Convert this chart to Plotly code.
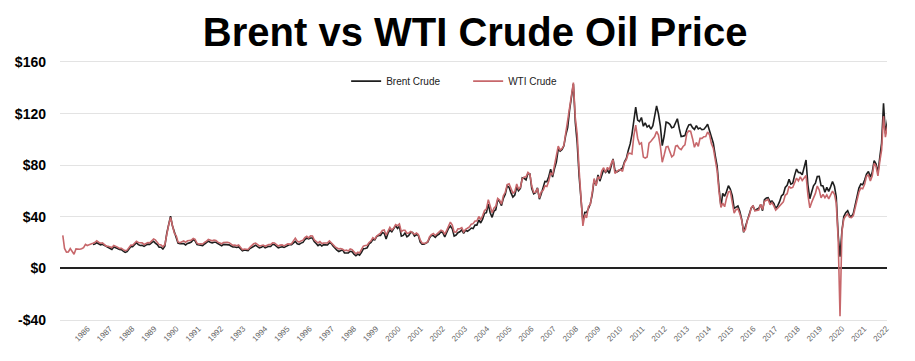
import pandas as pd
import plotly.graph_objects as go

# Monthly crude oil prices (USD/bbl)
wti_start = "1986-01-15"
wti_prices = [
    25.6, 15.5, 12.6, 12.8, 15.4, 13.4, 11.0, 15.1, 14.9, 14.9, 15.2, 16.1,      # 1986
    18.65, 17.75, 18.30, 18.68, 19.44, 20.07, 21.34, 20.31, 19.53, 19.86, 18.85, 17.28,  # 1987
    17.13, 16.80, 16.20, 17.86, 17.42, 16.53, 15.50, 15.52, 14.54, 13.77, 14.14, 16.38,  # 1988
    18.02, 17.94, 19.48, 21.07, 20.12, 20.05, 19.78, 18.58, 19.59, 20.10, 19.86, 21.10,  # 1989
    22.86, 22.11, 20.39, 18.43, 18.20, 16.70, 18.45, 27.31, 33.51, 39.50, 32.33, 27.28,  # 1990
    25.23, 20.48, 19.90, 20.83, 21.23, 20.19, 21.40, 21.69, 21.89, 23.23, 22.46, 19.50,  # 1991
    18.79, 19.01, 18.92, 20.23, 20.98, 22.39, 21.78, 21.34, 21.88, 21.69, 20.34, 19.41,  # 1992
    19.03, 20.09, 20.32, 20.25, 19.95, 19.09, 17.89, 18.01, 17.50, 18.15, 16.61, 14.52,  # 1993
    15.03, 14.78, 14.68, 16.42, 17.89, 19.06, 19.66, 18.38, 17.45, 17.72, 18.07, 17.16,  # 1994
    18.04, 18.57, 18.54, 19.90, 19.74, 18.45, 17.33, 18.02, 18.23, 17.43, 17.99, 19.03,  # 1995
    18.86, 19.09, 21.33, 23.50, 21.17, 20.42, 21.30, 21.90, 23.97, 24.88, 23.71, 25.23,  # 1996
    25.13, 22.18, 20.97, 19.70, 20.82, 19.26, 19.66, 19.95, 19.80, 21.33, 20.19, 18.33,  # 1997
    16.72, 16.06, 15.12, 15.35, 14.91, 13.72, 14.17, 13.47, 15.03, 14.46, 13.00, 11.35,  # 1998
    12.52, 12.01, 14.68, 17.31, 17.72, 17.92, 20.10, 21.28, 23.80, 22.69, 25.00, 26.10,  # 1999
    27.26, 29.37, 29.84, 25.72, 28.79, 31.82, 29.70, 31.26, 33.88, 33.11, 34.42, 28.44,  # 2000
    29.59, 29.61, 27.25, 27.49, 28.63, 27.60, 26.43, 27.37, 26.20, 22.17, 19.64, 19.39,  # 2001
    19.72, 20.72, 24.53, 26.18, 27.04, 25.52, 26.97, 28.39, 29.66, 28.84, 26.35, 29.46,  # 2002
    32.95, 35.83, 33.51, 28.17, 28.11, 30.66, 30.76, 31.57, 28.31, 30.34, 31.11, 32.13,  # 2003
    34.31, 34.69, 36.74, 36.75, 40.28, 38.03, 40.78, 44.90, 45.94, 53.28, 48.47, 43.15,  # 2004
    46.84, 48.15, 54.19, 52.98, 49.83, 56.35, 59.00, 64.99, 65.59, 62.26, 58.32, 59.41,  # 2005
    65.49, 61.63, 62.69, 69.44, 70.84, 70.95, 74.41, 73.04, 63.80, 58.89, 59.08, 61.96,  # 2006
    54.51, 59.28, 60.44, 63.98, 63.45, 67.49, 74.12, 72.36, 79.92, 85.80, 94.77, 91.69,  # 2007
    92.97, 95.39, 105.45, 112.58, 125.40, 134.00, 144.00, 116.67, 104.11, 76.61, 57.31, 33.00,  # 2008
    41.71, 39.09, 47.94, 49.65, 59.03, 69.64, 64.15, 71.05, 69.41, 75.72, 77.99, 74.47,  # 2009
    78.33, 76.39, 81.20, 84.29, 73.74, 75.34, 76.32, 76.60, 75.24, 81.89, 84.25, 89.15,  # 2010
    89.17, 88.58, 102.86, 111.00, 100.90, 96.26, 97.30, 86.33, 85.52, 86.32, 97.16, 98.56,  # 2011
    100.27, 102.20, 106.16, 103.32, 94.66, 82.30, 87.90, 94.13, 94.51, 89.49, 86.53, 87.86,  # 2012
    94.76, 95.31, 92.94, 92.02, 94.51, 95.77, 104.67, 106.57, 106.29, 100.54, 93.86, 97.63,  # 2013
    94.62, 100.82, 100.80, 102.07, 102.18, 105.79, 103.59, 96.54, 93.21, 84.40, 75.79, 59.29,  # 2014
    47.22, 50.58, 47.82, 54.45, 59.27, 59.82, 50.90, 42.87, 45.48, 46.22, 42.44, 37.19,  # 2015
    28.50, 30.32, 37.55, 40.75, 46.71, 48.76, 44.65, 44.72, 45.18, 49.78, 45.66, 51.97,  # 2016
    52.50, 53.47, 49.33, 51.06, 48.48, 45.18, 46.63, 48.04, 49.82, 51.58, 56.64, 57.88,  # 2017
    63.70, 62.23, 62.73, 66.25, 69.98, 67.87, 70.98, 68.06, 70.23, 72.00, 56.96, 47.00,  # 2018
    51.38, 54.95, 58.15, 63.86, 60.83, 54.66, 57.35, 54.81, 56.95, 53.96, 57.03, 59.88,  # 2019
    57.52, 50.54, 23.00, -37.00, 28.56, 38.31, 40.71, 42.34, 39.63, 39.40, 40.94, 47.02,  # 2020
    52.00, 59.04, 62.33, 61.72, 65.17, 71.38, 72.49, 67.73, 71.65, 81.48, 79.15, 71.71,  # 2021
    83.22, 91.64, 118.00, 101.78, 109.55, 118.00,                                      # 2022
]

brent_start = "1987-05-15"
brent_prices = [
    18.58, 18.86, 19.86, 18.98, 18.31, 18.76, 18.00, 16.94,                          # 1987
    16.75, 15.73, 14.73, 16.60, 16.31, 15.49, 14.69, 14.48, 13.34, 12.42, 13.00, 15.23,  # 1988
    16.98, 16.84, 18.36, 19.93, 18.42, 17.74, 17.93, 17.10, 18.04, 18.77, 18.60, 19.81,  # 1989
    21.07, 19.64, 18.44, 16.45, 16.44, 15.08, 17.17, 27.19, 34.90, 40.50, 33.07, 28.27,  # 1990
    23.57, 19.54, 19.08, 19.18, 19.19, 18.17, 19.40, 19.77, 20.45, 22.30, 21.34, 18.47,  # 1991
    18.16, 18.05, 17.63, 18.92, 19.89, 21.16, 20.24, 19.74, 20.27, 20.28, 19.32, 18.30,  # 1992
    17.46, 18.63, 18.62, 18.56, 18.23, 17.41, 16.57, 16.62, 16.17, 16.58, 15.17, 13.70,  # 1993
    14.24, 13.75, 13.75, 15.41, 16.18, 16.73, 17.99, 16.90, 15.97, 16.34, 17.34, 15.91,  # 1994
    16.53, 17.17, 17.00, 18.66, 18.35, 17.24, 15.99, 16.40, 16.75, 16.31, 17.16, 18.21,  # 1995
    18.45, 18.46, 19.98, 20.98, 19.04, 18.60, 19.60, 20.17, 22.27, 23.54, 22.83, 23.57,  # 1996
    23.54, 20.83, 19.34, 17.65, 18.74, 17.37, 18.39, 18.49, 18.12, 19.92, 19.19, 17.19,  # 1997
    15.34, 14.16, 13.09, 13.55, 14.44, 12.04, 12.08, 11.97, 13.28, 12.86, 11.10, 9.82,   # 1998
    11.12, 10.28, 12.50, 15.22, 15.40, 15.86, 19.07, 20.18, 22.43, 22.14, 24.64, 25.49,  # 1999
    25.50, 27.81, 27.25, 22.85, 27.33, 29.74, 28.45, 30.50, 33.12, 30.96, 32.56, 25.03,  # 2000
    25.60, 27.46, 24.48, 25.60, 28.03, 27.76, 25.11, 26.17, 25.64, 20.47, 18.80, 18.71,  # 2001
    19.42, 20.28, 23.70, 25.73, 25.35, 24.08, 25.74, 26.65, 28.40, 27.54, 24.34, 28.33,  # 2002
    31.18, 32.77, 30.61, 25.00, 25.86, 27.65, 28.35, 29.89, 27.11, 29.61, 28.75, 29.81,  # 2003
    31.28, 30.86, 33.63, 33.59, 37.57, 35.18, 38.22, 42.74, 43.20, 49.78, 43.11, 39.60,  # 2004
    44.51, 45.48, 53.10, 51.88, 48.65, 54.35, 57.52, 63.98, 62.91, 58.54, 55.24, 56.86,  # 2005
    62.99, 60.21, 62.06, 70.26, 69.78, 68.56, 73.67, 73.23, 61.96, 57.81, 58.76, 62.47,  # 2006
    53.68, 57.56, 62.05, 67.49, 67.21, 71.05, 76.93, 70.76, 77.17, 82.34, 92.41, 90.93,  # 2007
    92.18, 94.99, 103.64, 109.07, 122.80, 134.00, 143.00, 113.24, 97.23, 71.58, 52.45, 36.00,  # 2008
    43.44, 43.32, 46.54, 50.18, 57.30, 68.61, 64.44, 72.51, 67.65, 72.77, 76.66, 74.46,  # 2009
    76.17, 73.75, 78.83, 84.82, 75.95, 74.76, 75.58, 77.04, 77.84, 82.67, 85.28, 91.45,  # 2010
    96.52, 103.72, 114.64, 125.00, 114.99, 113.83, 116.97, 110.22, 112.83, 109.55, 110.77, 107.87,  # 2011
    110.69, 119.33, 126.00, 119.75, 110.34, 95.16, 102.62, 113.36, 112.86, 111.71, 109.06, 109.49,  # 2012
    112.96, 116.05, 108.47, 102.25, 102.56, 102.92, 107.93, 111.28, 111.60, 109.08, 107.79, 110.76,  # 2013
    108.12, 108.90, 107.48, 107.76, 109.54, 111.80, 106.77, 101.61, 97.09, 87.43, 79.44, 62.34,  # 2014
    47.76, 58.10, 55.89, 59.52, 64.08, 61.48, 56.56, 46.52, 47.62, 48.43, 44.27, 38.01,  # 2015
    28.00, 32.18, 38.21, 41.58, 46.74, 48.25, 44.95, 45.84, 46.57, 49.52, 44.73, 53.31,  # 2016
    54.58, 54.87, 51.59, 52.31, 50.33, 46.37, 48.48, 51.70, 56.15, 57.51, 62.71, 64.37,  # 2017
    69.08, 65.32, 66.02, 72.11, 76.98, 74.41, 74.25, 72.53, 78.89, 84.00, 64.75, 54.00,  # 2018
    59.41, 63.96, 66.14, 71.23, 71.32, 64.22, 63.92, 59.04, 62.83, 59.71, 63.21, 67.31,  # 2019
    63.65, 55.66, 26.00, 9.10, 29.38, 40.27, 43.24, 44.74, 40.91, 40.19, 42.69, 49.99,  # 2020
    54.77, 62.28, 65.41, 64.81, 68.53, 73.16, 75.17, 70.75, 74.49, 83.54, 81.05, 74.17,  # 2021
    86.51, 97.13, 128.00, 104.58, 113.34, 123.00,                                     # 2022
]

year_labels = [str(y) for y in range(1986, 2023)]
y_ticks = [-40, 0, 40, 80, 120, 160]
y_tick_text = ["-$40", "$0", "$40", "$80", "$120", "$160"]

wti_dates = pd.date_range(wti_start, periods=len(wti_prices), freq="MS") + pd.Timedelta(days=14)
brent_dates = pd.date_range(brent_start, periods=len(brent_prices), freq="MS") + pd.Timedelta(days=14)


def frac_year_to_date(fy):
    yr = int(fy)
    start = pd.Timestamp(year=yr, month=1, day=1)
    end = pd.Timestamp(year=yr + 1, month=1, day=1)
    return start + (end - start) * (fy - yr)


# label positions along the axis (evenly spaced, as in the source chart)
tick_positions = [frac_year_to_date(1987.22 + 0.9775 * i) for i in range(len(year_labels))]

# the page body adds an 8px margin, so the figure is sized/offset to compensate
fig = go.Figure()
fig.add_trace(go.Scatter(
    x=brent_dates, y=brent_prices, name="Brent Crude", mode="lines",
    line=dict(color="#1e1e1e", width=1.6),
))
fig.add_trace(go.Scatter(
    x=wti_dates, y=wti_prices, name="WTI Crude", mode="lines",
    line=dict(color="#c7676b", width=1.6),
))

fig.update_layout(
    width=907, height=353,
    margin=dict(l=52, r=28, t=54, b=41, autoexpand=False),
    paper_bgcolor="white", plot_bgcolor="white",
    font=dict(family="Liberation Sans, Arial, sans-serif", color="#000"),
    title=dict(
        text="<b>Brent vs WTI Crude Oil Price</b>",
        font=dict(size=40, color="#000", family="Liberation Sans, Arial, sans-serif"),
        x=0.515, xanchor="center", xref="container",
        y=0.932, yanchor="middle", yref="container",
    ),
    showlegend=True,
    legend=dict(
        orientation="h", x=0.346, xanchor="left", y=0.926, yanchor="middle",
        font=dict(size=10, color="#222"),
        entrywidth=77, entrywidthmode="pixels",
        bgcolor="rgba(0,0,0,0)",
    ),
    xaxis=dict(
        type="date", automargin=False,
        range=["1986-01-01", "2022-06-10"],
        tickvals=tick_positions, ticktext=year_labels,
        tickangle=-45, tickfont=dict(size=8, color="#666"),
        showgrid=False, zeroline=False, ticks="",
        showline=True, linecolor="#e3e3e3", linewidth=1, mirror=True,
    ),
    yaxis=dict(
        automargin=False,
        range=[-40, 160], tickvals=y_ticks, ticktext=["<b>%s</b>" % t for t in y_tick_text],
        tickfont=dict(size=14, color="#000"),
        showgrid=True, gridcolor="#e3e3e3", gridwidth=1,
        zeroline=True, zerolinecolor="#222", zerolinewidth=1.5,
        showline=False, ticks="", ticklabelstandoff=13,
    ),
)

fig.write_html("out.html")
